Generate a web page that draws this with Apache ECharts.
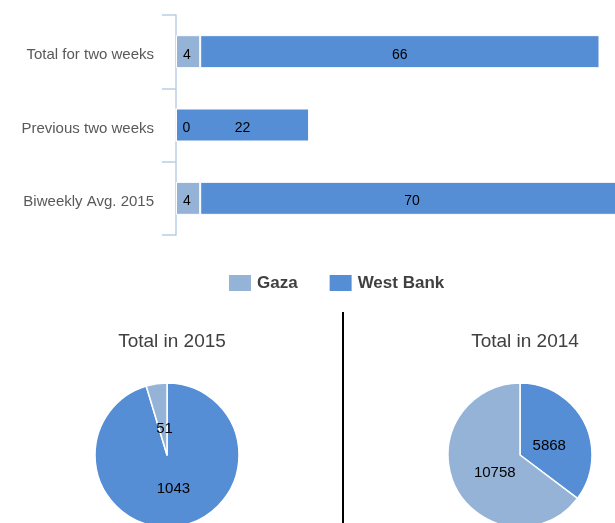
<!DOCTYPE html>
<html>
<head>
<meta charset="utf-8">
<script src="https://cdn.jsdelivr.net/npm/echarts@6/dist/echarts.min.js"></script>
<style>html,body{margin:0;padding:0;background:#fff}#c{width:615px;height:523px}</style>
</head>
<body>
<div id="c"></div>
<script>
const categories = ["Total for two weeks", "Previous two weeks", "Biweekly Avg. 2015"];
const gazaValues = [4, 0, 4];
const westBankValues = [66, 22, 70];
const pie2015 = [{name: "West Bank", value: 1043}, {name: "Gaza", value: 51}];
const pie2014 = [{name: "West Bank", value: 5868}, {name: "Gaza", value: 10758}];
const pieTitles = ["Total in 2015", "Total in 2014"];

const GAZA = '#95B3D7', WB = '#558ED5';
const font = 'Liberation Sans, Arial, sans-serif';
const C2015 = [167, 455], C2014 = [520, 455];
function pullIn(center) {
  return function (params) {
    const r = params.labelRect;
    const lx = r.x + r.width / 2, ly = r.y + r.height / 2;
    return {x: center[0] + (lx - center[0]) * 0.78 + 2, y: center[1] + (ly - center[1]) * 0.78 + 4};
  };
}
const chart = echarts.init(document.getElementById('c'), null, {renderer: 'canvas'});
chart.setOption({
  animation: false,
  color: [GAZA, WB],
  textStyle: {fontFamily: font},
  title: [
    {text: pieTitles[0], left: 167, top: 327, textAlign: 'center', textStyle: {fontFamily: font, fontSize: 19, fontWeight: 'normal', color: '#404040'}},
    {text: pieTitles[1], left: 520, top: 327, textAlign: 'center', textStyle: {fontFamily: font, fontSize: 19, fontWeight: 'normal', color: '#404040'}}
  ],
  legend: {
    data: ['Gaza', 'West Bank'],
    left: 222, top: 268,
    itemWidth: 24, itemHeight: 18, itemGap: 30,
    icon: 'rect',
    textStyle: {fontFamily: font, fontSize: 17, fontWeight: 'bold', color: '#404040'}
  },
  grid: {left: 176, top: 15, height: 220, width: 484, containLabel: false, outerBoundsMode: 'none'},
  xAxis: {type: 'value', min: 0, max: 80, show: false},
  yAxis: {
    type: 'category', data: categories, inverse: true,
    axisLine: {show: true, lineStyle: {color: '#B9CDE5', width: 1.5}},
    axisTick: {show: true, length: 14, lineStyle: {color: '#B9CDE5', width: 1.5}},
    axisLabel: {margin: 22, color: '#595959', fontSize: 15, fontFamily: font, verticalAlign: 'top', lineHeight: 7},
    splitLine: {show: false}
  },
  series: [
    {name: 'Gaza', type: 'bar', stack: 'a', data: gazaValues, barWidth: 33,
     itemStyle: {color: GAZA, borderColor: '#fff', borderWidth: 1},
     label: {show: true, position: 'insideLeft', distance: 7, offset: [0, 3], color: '#000', fontSize: 14, fontFamily: font}},
    {name: 'West Bank', type: 'bar', stack: 'a', data: westBankValues, barWidth: 33,
     itemStyle: {color: WB, borderColor: '#fff', borderWidth: 1},
     label: {show: true, position: 'inside', offset: [0, 3], color: '#000', fontSize: 14, fontFamily: font}},
    {name: 'pie2015', type: 'pie', center: C2015, radius: 72, startAngle: 90, clockwise: true,
     data: pie2015.map(d => ({name: d.name, value: d.value, itemStyle: {color: d.name === 'Gaza' ? GAZA : WB}})),
     itemStyle: {borderColor: '#fff', borderWidth: 1.5},
     label: {show: true, position: 'inside', formatter: '{c}', color: '#000', fontSize: 15, fontFamily: font},
     labelLayout: pullIn(C2015),
     labelLine: {show: false}, emphasis: {disabled: true}},
    {name: 'pie2014', type: 'pie', center: C2014, radius: 72, startAngle: 90, clockwise: true,
     data: pie2014.map(d => ({name: d.name, value: d.value, itemStyle: {color: d.name === 'Gaza' ? GAZA : WB}})),
     itemStyle: {borderColor: '#fff', borderWidth: 1.5},
     label: {show: true, position: 'inside', formatter: '{c}', color: '#000', fontSize: 15, fontFamily: font},
     labelLayout: pullIn(C2014),
     labelLine: {show: false}, emphasis: {disabled: true}}
  ],
  graphic: [
    {type: 'line', shape: {x1: 343, y1: 312, x2: 343, y2: 523}, style: {stroke: '#000', lineWidth: 2}}
  ]
});
</script>
</body>
</html>
